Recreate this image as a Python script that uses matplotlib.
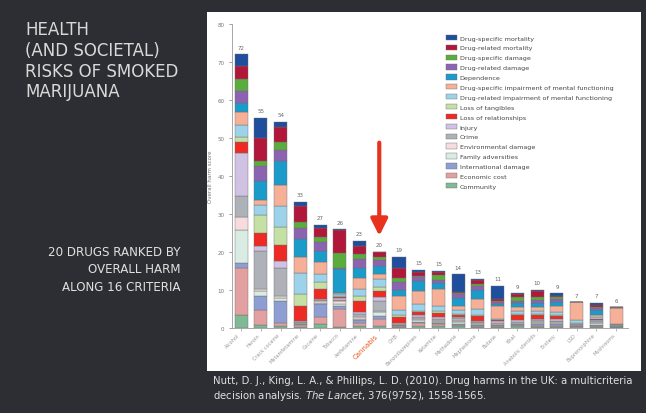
import matplotlib
matplotlib.use("Agg")
import matplotlib.pyplot as plt
import numpy as np
from matplotlib.patches import Rectangle

drugs = ["Alcohol", "Heroin", "Crack cocaine", "Metamfetamine", "Cocaine", "Tobacco",
         "Amfetamine", "Cannabis", "GHB", "Benzodiazepines", "Ketamine", "Methadone",
         "Mephedrone", "Butane", "Khat", "Anabolic steroids", "Ecstasy", "LSD",
         "Buprenorphine", "Mushrooms"]
totals = [72, 55, 54, 33, 27, 26, 23, 20, 19, 15, 15, 14, 13, 11, 9, 10, 9, 7, 7, 6]

# criteria, bottom of the stack first
criteria = ["Community", "Economic cost", "International damage", "Family adversities",
            "Environmental damage", "Crime", "Injury", "Loss of relationships",
            "Loss of tangibles", "Drug-related impairment of mental functioning",
            "Drug-specific impairment of mental functioning", "Dependence",
            "Drug-related damage", "Drug-specific damage", "Drug-related mortality",
            "Drug-specific mortality"]
colors = ["#7fb995", "#e3a0a0", "#8e9ed2", "#d8ece3", "#f6dcdc", "#aeb1b8", "#cfc2e3",
          "#ee2a24", "#c4e0a5", "#9dd3ea", "#f6b097", "#1a9bc9", "#8c63b0", "#5aad3c",
          "#b0173a", "#1f4e9c"]

# one row per drug, values in the order of `criteria`
alcohol      = [3.5, 12.3, 1.2, 8.9, 3.3, 5.5, 11.3, 3.0, 1.3, 3.1, 3.4, 2.4, 3.1, 3.3, 3.4, 3.0]
heroin       = [0.8, 4.0, 3.6, 1.3, 0.5, 10.0, 1.3, 3.5, 4.7, 2.7, 1.4, 4.9, 4.0, 1.2, 6.1, 5.3]
crack        = [0.5, 0.8, 5.9, 0.7, 0.4, 7.5, 1.8, 4.3, 4.7, 5.4, 5.7, 6.2, 3.0, 2.1, 3.9, 1.3]
metamfet     = [0.3, 0.4, 0.3, 0.2, 0.2, 0.3, 0.2, 3.9, 3.1, 5.7, 4.0, 4.8, 2.9, 1.5, 4.4, 1.0]
cocaine      = [1.0, 1.8, 3.5, 0.4, 0.3, 0.4, 0.2, 2.7, 1.7, 2.2, 3.1, 3.0, 2.4, 1.2, 2.4, 0.9]
tobacco      = [0.3, 4.6, 0.9, 0.6, 0.8, 0.3, 0.4, 0.2, 0.4, 0.5, 0.2, 6.3, 0.4, 3.9, 5.9, 0.3]
amfetamine   = [0.6, 0.8, 0.8, 0.3, 0.3, 0.8, 0.5, 3.0, 1.3, 1.8, 3.0, 2.7, 2.2, 1.3, 2.3, 1.2]
cannabis     = [0.6, 1.8, 0.8, 1.0, 0.4, 2.6, 0.9, 1.7, 0.9, 2.2, 1.3, 2.2, 1.6, 0.6, 1.3, 0.1]
ghb          = [0.3, 0.3, 0.2, 0.1, 0.1, 0.1, 0.1, 1.8, 0.4, 1.4, 3.7, 1.5, 2.0, 1.1, 2.6, 3.1]
benzo        = [0.5, 0.7, 0.4, 0.5, 0.2, 0.6, 0.5, 0.9, 0.3, 1.6, 3.6, 2.5, 1.0, 0.4, 1.0, 0.6]
ketamine     = [0.5, 0.5, 0.3, 0.3, 0.3, 0.4, 0.6, 1.1, 0.4, 1.5, 4.3, 1.6, 0.9, 1.2, 0.9, 0.3]
methadone    = [0.4, 0.4, 0.3, 0.6, 0.2, 0.7, 0.3, 0.5, 0.3, 1.0, 1.2, 2.0, 1.0, 0.3, 0.4, 4.5]
mephedrone   = [0.3, 0.3, 0.3, 0.2, 0.2, 0.3, 0.2, 1.3, 0.4, 1.4, 2.7, 2.4, 1.0, 0.6, 1.0, 0.3]
butane       = [0.3, 0.3, 0.1, 0.3, 0.2, 0.2, 0.4, 0.3, 0.1, 0.3, 3.4, 0.5, 0.5, 0.3, 0.4, 3.5]
khat         = [0.4, 0.3, 0.3, 0.3, 0.2, 0.2, 0.3, 1.4, 0.4, 0.8, 0.8, 1.2, 0.6, 0.9, 0.9, 0.1]
steroids     = [0.3, 0.3, 0.4, 0.4, 0.2, 0.4, 0.3, 1.1, 0.4, 0.8, 0.9, 1.0, 0.8, 0.9, 1.6, 0.2]
ecstasy      = [0.3, 0.3, 0.5, 0.3, 0.2, 0.3, 0.4, 0.8, 0.3, 0.9, 1.4, 1.2, 0.7, 0.5, 0.4, 0.6]
lsd          = [0.1, 0.2, 0.3, 0.1, 0.1, 0.1, 0.1, 0.1, 0.1, 0.8, 4.8, 0.0, 0.0, 0.0, 0.0, 0.0]
bupren       = [0.3, 0.3, 0.3, 0.3, 0.2, 0.4, 0.2, 0.3, 0.2, 0.5, 0.4, 1.3, 0.6, 0.2, 0.5, 0.6]
mushrooms    = [0.2, 0.1, 0.3, 0.1, 0.1, 0.1, 0.1, 0.0, 0.0, 0.0, 4.3, 0.0, 0.1, 0.0, 0.0, 0.0]

scores = np.array([alcohol, heroin, crack, metamfet, cocaine, tobacco, amfetamine, cannabis,
                   ghb, benzo, ketamine, methadone, mephedrone, butane, khat, steroids,
                   ecstasy, lsd, bupren, mushrooms])

fig = plt.figure(figsize=(6.46, 4.14), dpi=100)
fig.patch.set_facecolor("#2c2e33")

# white panel holding the chart
fig.patches.append(Rectangle((207/646, 42/414), 434/646, 359/414, transform=fig.transFigure,
                             facecolor="white", edgecolor="none", zorder=-5))

ax = fig.add_axes([232/646, 85/414, 396/646, 304/414])
ax.set_zorder(2)
ax.set_facecolor("none")
x = np.arange(len(drugs))
bottom = np.zeros(len(drugs))
for j, crit in enumerate(criteria):
    ax.bar(x, scores[:, j], 0.66, bottom=bottom, color=colors[j], edgecolor="#6f6f6f",
           linewidth=0.3, label=crit)
    bottom += scores[:, j]

for i, t in enumerate(totals):
    ax.text(x[i], bottom[i] + 1.2, str(t), ha="center", va="bottom", fontsize=4, color="#666666")

ax.set_xlim(-0.46, 19.6)
ax.set_ylim(0, 80)
ax.set_yticks(range(0, 81, 10))
ax.tick_params(axis="y", labelsize=4, colors="#777777", length=2, width=0.5)
ax.set_xticks(x)
ax.set_xticklabels(drugs, rotation=45, ha="right", fontsize=3.6, color="#777777")
ax.tick_params(axis="x", length=2, width=0.5, colors="#999999", pad=1)
lbl = ax.get_xticklabels()[7]
lbl.set_color("#e8581c")
lbl.set_fontsize(5)
for s in ["top", "right"]:
    ax.spines[s].set_visible(False)
for s in ["left", "bottom"]:
    ax.spines[s].set_color("#999999")
    ax.spines[s].set_linewidth(0.6)
ax.set_ylabel("Overall harm score", fontsize=4, color="#777777", labelpad=3)

# arrow pointing at cannabis
ax.annotate("", xy=(7, 23.5), xytext=(7, 49.5),
            arrowprops=dict(arrowstyle="-|>,head_width=0.5,head_length=1.0",
                            color="#e8321e", lw=3))

handles, labels = ax.get_legend_handles_labels()
leg = fig.legend(handles[::-1], labels[::-1], loc="upper left",
                 bbox_to_anchor=(440/646, 1 - 30/414),
                 frameon=False, fontsize=4.6, labelspacing=0.63, handlelength=1.7,
                 handleheight=0.9, handletextpad=0.5, labelcolor="#444444")
leg.set_zorder(3)

fig.text(25/646, 1 - 21/414, "HEALTH\n(AND SOCIETAL)\nRISKS OF SMOKED\nMARIJUANA",
         ha="left", va="top", fontsize=12, color="#d9d9d9", linespacing=1.2,
         family="DejaVu Sans")
fig.text(181/646, 1 - 246/414, "20 DRUGS RANKED BY\nOVERALL HARM\nALONG 16 CRITERIA",
         ha="right", va="top", fontsize=8.6, color="#e0e0e0", linespacing=1.45,
         family="DejaVu Sans")
fig.text(213/646, 1 - 376/414,
         "Nutt, D. J., King, L. A., & Phillips, L. D. (2010). Drug harms in the UK: a multicriteria",
         ha="left", va="top", fontsize=7.3, color="#e0e0e0")
fig.text(213/646, 1 - 389/414,
         r"decision analysis. $\it{The\ Lancet}$, 376(9752), 1558-1565.",
         ha="left", va="top", fontsize=7.3, color="#e0e0e0")

fig.savefig("out.png", dpi=100, facecolor=fig.get_facecolor())
